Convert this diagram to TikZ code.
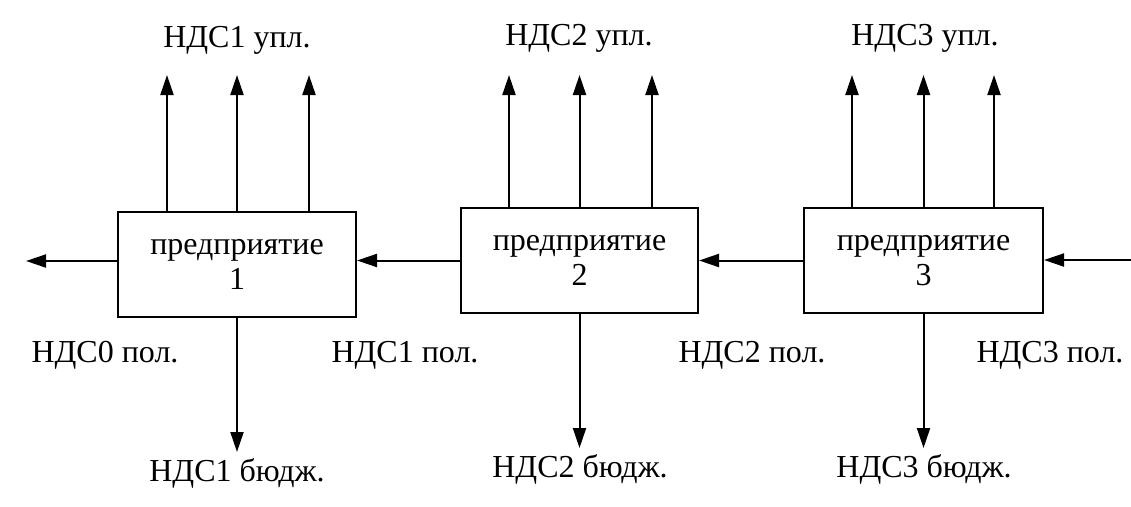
\documentclass[tikz,border=0pt]{standalone}
\usepackage{fontspec}
\setmainfont{Liberation Serif}
\usetikzlibrary{arrows.meta}
\begin{document}
\begin{tikzpicture}[x=1pt,y=-1pt,
  every node/.style={font=\fontsize{32}{35}\selectfont, inner sep=0pt},
  firm/.style={draw, line width=2pt, align=center},
  arr/.style={line width=2pt, -{Triangle[length=20pt,width=13pt]}}]
  \useasboundingbox[fill=white] (0,0) rectangle (1131,506);

  % enterprises
  \node[firm, minimum width=238pt, minimum height=105pt] (b1) at (237,264.5) {предприятие\\1};
  \node[firm, minimum width=237pt, minimum height=105pt] (b2) at (579.5,260.5) {предприятие\\2};
  \node[firm, minimum width=239pt, minimum height=105pt] (b3) at (923.5,260.5) {предприятие\\3};

  % free ends of the connectors
  \coordinate (out0) at (26,261);
  \coordinate (in3) at (1131,260);
  \coordinate (d1) at (237,452);
  \coordinate (d2) at (579.5,448);
  \coordinate (d3) at (923.5,448);

  % VAT passed along the chain
  \draw[arr] (b1.west |- out0) -- (out0);
  \draw[arr] (b2.west) -- (b2.west -| b1.east);
  \draw[arr] (b3.west) -- (b3.west -| b2.east);
  \draw[arr] (in3) -- (in3 -| b3.east);

  % VAT paid
  \foreach \dx in {-70,0,72} \draw[arr] ([xshift=\dx pt]b1.north) -- ++(0,-136);
  \foreach \dx in {-70.5,0,72.5} \draw[arr] ([xshift=\dx pt]b2.north) -- ++(0,-132);
  \foreach \dx in {-71.5,0,70.5} \draw[arr] ([xshift=\dx pt]b3.north) -- ++(0,-132);

  % VAT to the budget
  \draw[arr] (b1.south) -- (d1);
  \draw[arr] (b2.south) -- (d2);
  \draw[arr] (b3.south) -- (d3);

  % labels
  \node (u1) at (237,40) {НДС1 упл.};
  \node (u2) at (579,38) {НДС2 упл.};
  \node (u3) at (925,38) {НДС3 упл.};
  \node (p0) at (105,355) {НДС0 пол.};
  \node (p1) at (405,355) {НДС1 пол.};
  \node (p2) at (752,355) {НДС2 пол.};
  \node (p3) at (1050,355) {НДС3 пол.};
  \node (g1) at (237,473) {НДС1 бюдж.};
  \node (g2) at (580,469) {НДС2 бюдж.};
  \node (g3) at (924,469) {НДС3 бюдж.};
\end{tikzpicture}
\end{document}
